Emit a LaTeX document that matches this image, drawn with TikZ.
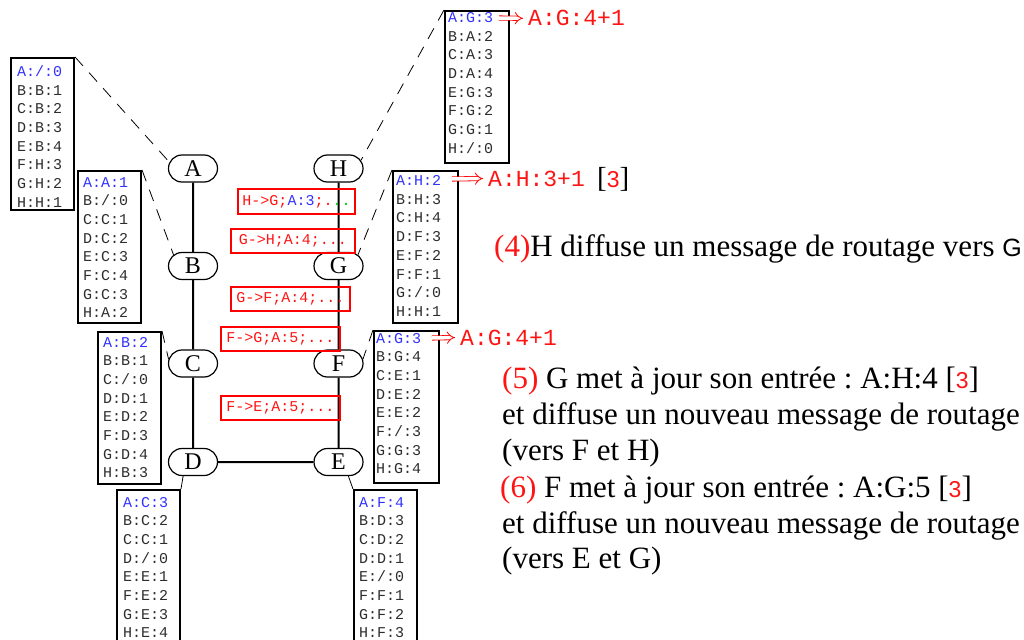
\documentclass[tikz,border=0pt]{standalone}
\usepackage{fontspec}
\setmainfont{Liberation Serif}
\newfontfamily\monof{Liberation Mono}
\newfontfamily\sansf{Liberation Sans}
\usetikzlibrary{shapes.misc,arrows.meta}
\definecolor{tblue}{RGB}{50,50,255}
\definecolor{tred}{RGB}{255,20,20}
\definecolor{tgreen}{RGB}{0,200,0}
\definecolor{tgray}{RGB}{45,45,45}
\newcommand\tabfont{\monof\fontsize{15pt}{18.7pt}\selectfont}
\newcommand\bigtxt{\frenchspacing\fontsize{31pt}{36pt}\selectfont}
\newcommand\redthree{\textcolor{tred}{\sansf\fontsize{23pt}{23pt}\selectfont 3}}
\newcommand\tabrows[8]{\vtop{\baselineskip=18.7pt\hbox{\textcolor{tblue}{#1}}\hbox{#2}\hbox{#3}\hbox{#4}\hbox{#5}\hbox{#6}\hbox{#7}\hbox{#8}}}
\tikzset{
  router/.style={draw, rounded rectangle, line width=1.2pt, minimum width=49pt, minimum height=27pt, inner sep=0pt, fill=white, font=\fontsize{24pt}{24pt}\selectfont},
  link/.style={line width=2pt},
  tbox/.style={draw, line width=2pt, minimum width=63pt, minimum height=152pt, anchor=north west, inner sep=0pt},
  ttext/.style={anchor=base west, inner sep=0pt, font=\tabfont, text=tgray},
  msgbox/.style={draw=red, line width=2pt, inner sep=0pt, anchor=north west, minimum width=119pt, minimum height=24pt, font=\tabfont, text=tred},
  dlink/.style={line width=0.8pt, dash pattern=on 12pt off 9pt},
  slink/.style={line width=0.8pt},
  annot/.style={anchor=base west, inner sep=0pt, font=\monof\fontsize{23pt}{23pt}\selectfont, text=tred},
  dblarrow/.style={draw=red, double=white, double distance=3.5pt, line width=0.8pt, -{Implies}, shorten >=5pt},
  para/.style={anchor=base west, inner sep=0pt, font=\bigtxt}
}
\begin{document}
\begin{tikzpicture}[x=1pt,y=-1pt]
\fill[white] (0,0) rectangle (1024,639);
\useasboundingbox (0,0) rectangle (1024,639);

% routers
\node[router] (A) at (193,168.5) {A};
\node[router] (B) at (193,266) {B};
\node[router] (C) at (193,363.5) {C};
\node[router] (D) at (193,462) {D};
\node[router] (H) at (338.5,168.5) {H};
\node[router] (G) at (338.5,266) {G};
\node[router] (F) at (338.5,363.5) {F};
\node[router] (E) at (338.5,462) {E};
\draw[link] (A) -- (B);
\draw[link] (B) -- (C);
\draw[link] (C) -- (D);
\draw[link] (D) -- (E);
\draw[link] (E) -- (F);
\draw[link] (F) -- (G);
\draw[link] (G) -- (H);

% routing tables
\node[ttext] (rA) at (17,76.5) {\tabrows{A:/:0}{B:B:1}{C:B:2}{D:B:3}{E:B:4}{F:H:3}{G:H:2}{H:H:1}};
\node[tbox] (tA) at (10,57) {};
\node[ttext] (rB) at (83,187) {\tabrows{A:A:1}{B:/:0}{C:C:1}{D:C:2}{E:C:3}{F:C:4}{G:C:3}{H:A:2}};
\node[tbox] (tB) at (77,170) {};
\node[ttext] (rC) at (103,347) {\tabrows{A:B:2}{B:B:1}{C:/:0}{D:D:1}{E:D:2}{F:D:3}{G:D:4}{H:B:3}};
\node[tbox] (tC) at (97,331) {};
\node[ttext] (rD) at (123,507) {\tabrows{A:C:3}{B:C:2}{C:C:1}{D:/:0}{E:E:1}{F:E:2}{G:E:3}{H:E:4}};
\node[tbox] (tD) at (116,489) {};
\node[ttext] (rE) at (359,507) {\tabrows{A:F:4}{B:D:3}{C:D:2}{D:D:1}{E:/:0}{F:F:1}{G:F:2}{H:F:3}};
\node[tbox] (tE) at (353,489) {};
\node[ttext] (rF) at (376,343) {\tabrows{A:G:3}{B:G:4}{C:E:1}{D:E:2}{E:E:2}{F:/:3}{G:G:3}{H:G:4}};
\node[tbox, minimum width=65pt] (tF) at (373,330) {};
\node[ttext] (rG) at (396,185.5) {\tabrows{A:H:2}{B:H:3}{C:H:4}{D:F:3}{E:F:2}{F:F:1}{G:/:0}{H:H:1}};
\node[tbox, minimum width=65pt] (tG) at (392,170) {};
\node[ttext] (rH) at (448,22.5) {\tabrows{A:G:3}{B:A:2}{C:A:3}{D:A:4}{E:G:3}{F:G:2}{G:G:1}{H:/:0}};
\node[tbox, minimum width=64pt] (tH) at (444,10) {};

% table to router connectors
\draw[dlink] (tA.north east) -- (A.165);
\draw[dlink] (tB.north east) -- (B.150);
\draw[dlink] (tH.north west) -- (H.20);
\draw[dlink] (tG.north west) -- (G.30);
\draw[dlink] (tC.north east) -- (C.170);
\draw[dlink] (tF.north west) -- (F.10);
\draw[slink] (D.235) -- (tD.north east);
\draw[slink] (E.-55) -- (tE.north west);

% messages
\node[msgbox, minimum width=117pt, minimum height=25pt] (m1) at (237,188) {H->G;\textcolor{tblue}{A:3};.\textcolor{tgreen}{..}};
\node[msgbox, minimum width=124pt] (m2) at (230,228) {G->H;A:4;...};
\node[msgbox] (m3) at (230,286) {G->F;A:4;...};
\node[msgbox] (m4) at (220,326) {F->G;A:5;...};
\node[msgbox] (m5) at (220,395) {F->E;A:5;...};

% annotations
\node[annot] (aH) at (528,26) {A:G:4+1};
\coordinate (sH) at (499,18);
\draw[dblarrow] (sH) -- (aH.west);
\node[annot] (aG) at (488,186) {A:H:3+1};
\node[anchor=base west, inner sep=0pt, font=\fontsize{29pt}{29pt}\selectfont] (bG) at (597,187) {[\textcolor{tred}{\sansf\fontsize{23pt}{23pt}\selectfont 3}]};
\coordinate (sG) at (452,179);
\draw[dblarrow] (sG) -- (aG.west);
\node[annot] (aF) at (460,345) {A:G:4+1};
\coordinate (sF) at (432,338);
\draw[dblarrow] (sF) -- (aF.west);

% explanations
\node[para] (p4) at (494,256) {\textcolor{tred}{(4)}H diffuse un message de routage vers {\sansf\fontsize{25pt}{25pt}\selectfont G}};
\node[para] (p5a) at (502,388) {\textcolor{tred}{(5)} G met à jour son entrée : A:H:4 [\redthree]};
\node[para] (p5b) at (502,424) {et diffuse un nouveau message de routage};
\node[para] (p5c) at (502,460) {(vers F et H)};
\node[para] (p6a) at (500,497) {\textcolor{tred}{(6)} F met à jour son entrée : A:G:5 [\redthree]};
\node[para] (p6b) at (502,533) {et diffuse un nouveau message de routage};
\node[para] (p6c) at (502,568) {(vers E et G)};
\end{tikzpicture}
\end{document}
